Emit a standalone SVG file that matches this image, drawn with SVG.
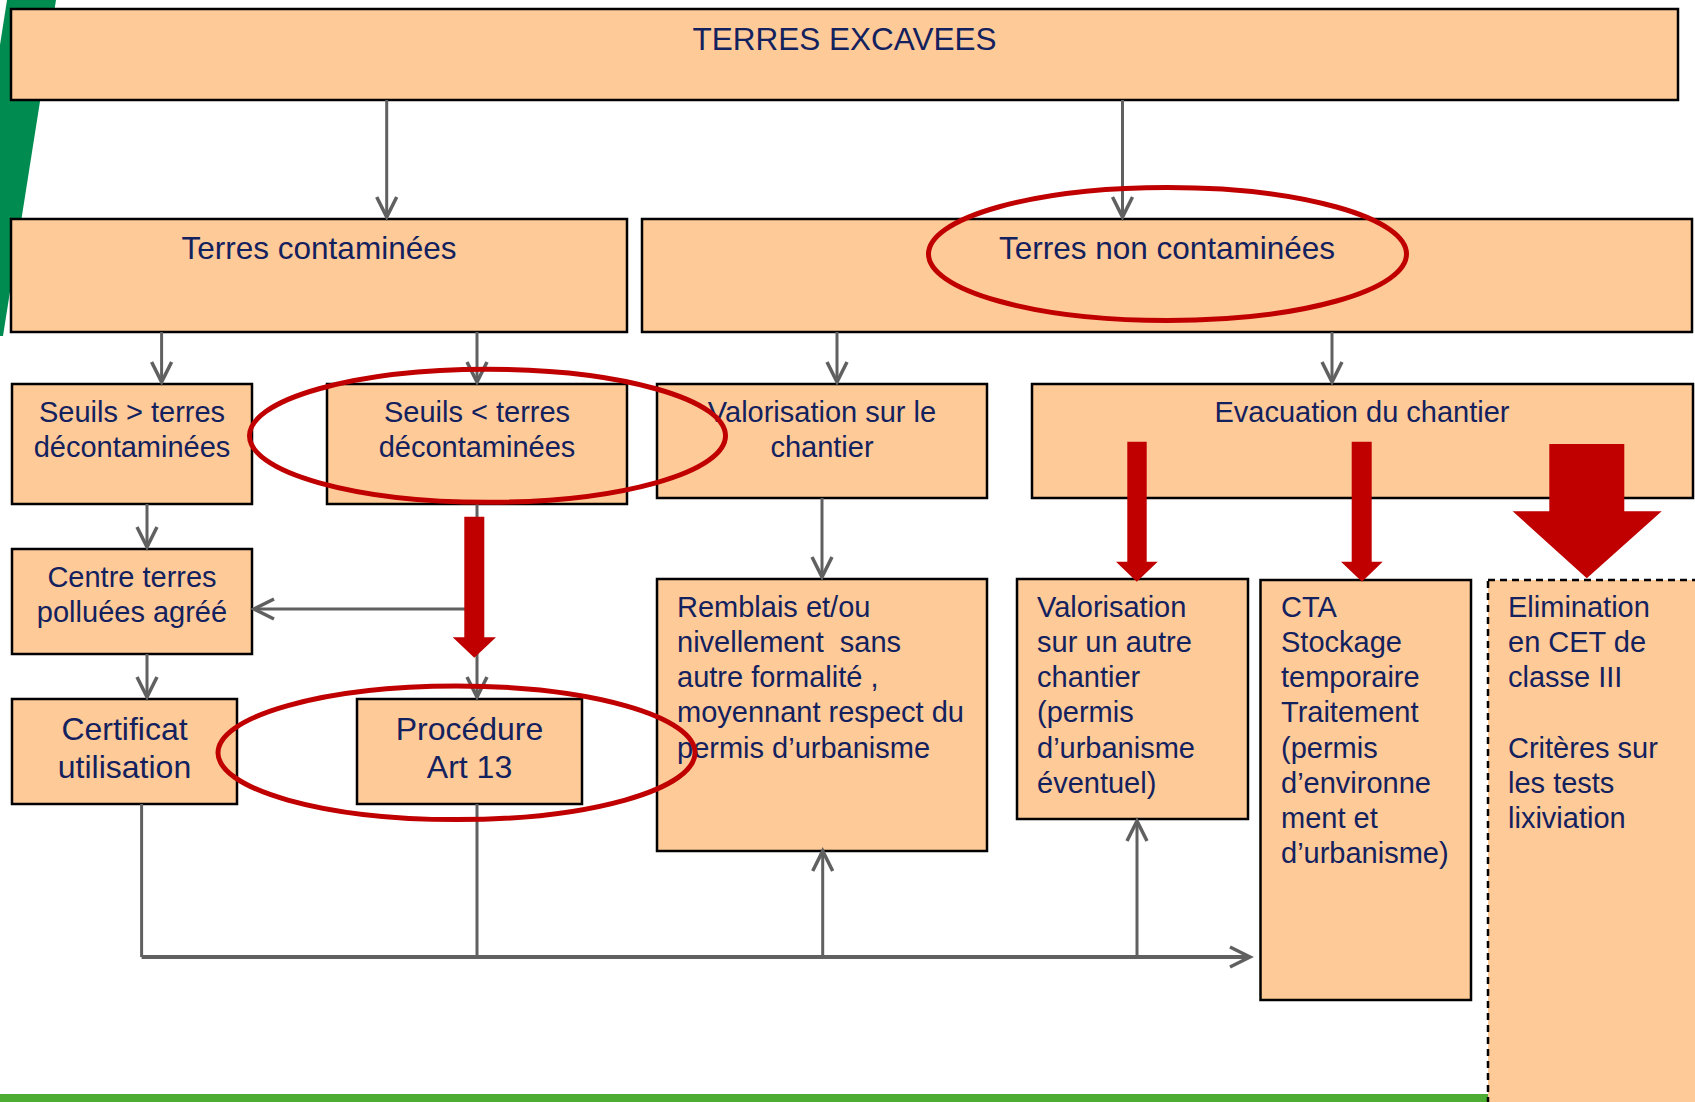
<svg xmlns="http://www.w3.org/2000/svg" width="1695" height="1102" viewBox="0 0 1695 1102">
<defs>
<style>
.box{fill:#FECA98;stroke:#000;stroke-width:2.5}
.dash{fill:#FECA98;stroke:#000;stroke-width:2.5;stroke-dasharray:7,5}
.t{font-family:"Liberation Sans",Arial,sans-serif;fill:#13215E}
.c{text-anchor:middle}
.f31{font-size:31.5px}
.f29{font-size:29px}
.f32{font-size:32px}
.con{stroke:#606060;stroke-width:3;fill:none}
.red{fill:#C00000}
.ell{fill:none;stroke:#C00000;stroke-width:5}
</style>
<marker id="ah" markerUnits="userSpaceOnUse" markerWidth="30" markerHeight="30" viewBox="-25 -15 30 30" refX="0" refY="0" orient="auto">
<path d="M-20,-10 L0,0 L-20,10" fill="none" stroke="#606060" stroke-width="3.5"/>
</marker>
</defs>
<rect width="1695" height="1102" fill="#fff"/>
<polygon points="7,0 56,0 3,336 0,336 0,45" fill="#008C50"/>
<rect x="0" y="1094" width="1490" height="8" fill="#4CAD32"/>

<g id="n-terres-excavees"><rect class="box" x="11" y="9" width="1667" height="91"/><text class="t c f31" x="844.5" y="50">TERRES EXCAVEES</text></g>
<g id="n-terres-contaminees"><rect class="box" x="11" y="219" width="616" height="113"/><text class="t c f31" x="319" y="259">Terres contaminées</text></g>
<g id="n-terres-non-contaminees"><rect class="box" x="642" y="219" width="1050" height="113"/><text class="t c f31" x="1167" y="259">Terres non contaminées</text></g>
<g id="n-seuils-sup"><rect class="box" x="12" y="384" width="240" height="120"/><text class="t c f29" x="132" y="421.7">Seuils &gt; terres</text><text class="t c f29" x="132" y="456.7">décontaminées</text></g>
<g id="n-seuils-inf"><rect class="box" x="327" y="384" width="300" height="120"/><text class="t c f29" x="477" y="421.7">Seuils &lt; terres</text><text class="t c f29" x="477" y="456.7">décontaminées</text></g>
<g id="n-valorisation-chantier"><rect class="box" x="657" y="384" width="330" height="114"/><text class="t c f29" x="822" y="421.7">Valorisation sur le</text><text class="t c f29" x="822" y="456.7">chantier</text></g>
<g id="n-evacuation"><rect class="box" x="1032" y="384" width="661" height="114"/><text class="t c f29" x="1362" y="421.7">Evacuation du chantier</text></g>
<g id="n-centre"><rect class="box" x="12" y="549" width="240" height="105"/><text class="t c f29" x="132" y="586.7">Centre terres</text><text class="t c f29" x="132" y="621.7">polluées agréé</text></g>
<g id="n-certificat"><rect class="box" x="12" y="699" width="225" height="105"/><text class="t c f32" x="124.5" y="740">Certificat</text><text class="t c f32" x="124.5" y="777.7">utilisation</text></g>
<g id="n-procedure"><rect class="box" x="357" y="699" width="225" height="105"/><text class="t c f32" x="469.5" y="740">Procédure</text><text class="t c f32" x="469.5" y="777.7">Art 13</text></g>
<g id="n-remblais"><rect class="box" x="657" y="579" width="330" height="272"/>
<text class="t f29" x="677" y="616.7" style="white-space:pre">Remblais et/ou<tspan x="677" y="651.9">nivellement  sans</tspan><tspan x="677" y="687.1">autre formalité ,</tspan><tspan x="677" y="722.3">moyennant respect du</tspan><tspan x="677" y="757.5">permis d’urbanisme</tspan></text></g>
<g id="n-valorisation-autre"><rect class="box" x="1017" y="579" width="231" height="240"/>
<text class="t f29" x="1037" y="616.7">Valorisation<tspan x="1037" y="651.9">sur un autre</tspan><tspan x="1037" y="687.1">chantier</tspan><tspan x="1037" y="722.3">(permis</tspan><tspan x="1037" y="757.5">d’urbanisme</tspan><tspan x="1037" y="792.7">éventuel)</tspan></text></g>
<g id="n-cta"><rect class="box" x="1260.5" y="580" width="210.5" height="420"/>
<text class="t f29" x="1281" y="616.7">CTA<tspan x="1281" y="651.9">Stockage</tspan><tspan x="1281" y="687.1">temporaire</tspan><tspan x="1281" y="722.3">Traitement</tspan><tspan x="1281" y="757.5">(permis</tspan><tspan x="1281" y="792.7">d’environne</tspan><tspan x="1281" y="827.9">ment et</tspan><tspan x="1281" y="863.1">d’urbanisme)</tspan></text></g>
<g id="n-elimination"><rect class="dash" x="1488" y="580" width="260" height="560"/>
<text class="t f29" x="1508" y="616.7">Elimination<tspan x="1508" y="651.9">en CET de</tspan><tspan x="1508" y="687.1">classe III</tspan><tspan x="1508" y="757.5">Critères sur</tspan><tspan x="1508" y="792.7">les tests</tspan><tspan x="1508" y="827.9">lixiviation</tspan></text></g>

<g id="connectors">
<line class="con" x1="386.7" y1="100" x2="386.7" y2="217" marker-end="url(#ah)"/>
<line class="con" x1="1122.5" y1="100" x2="1122.5" y2="217" marker-end="url(#ah)"/>
<line class="con" x1="161.6" y1="332" x2="161.6" y2="382" marker-end="url(#ah)"/>
<line class="con" x1="477" y1="332" x2="477" y2="382" marker-end="url(#ah)"/>
<line class="con" x1="837" y1="332" x2="837" y2="382" marker-end="url(#ah)"/>
<line class="con" x1="1332" y1="332" x2="1332" y2="382" marker-end="url(#ah)"/>
<line class="con" x1="147" y1="504" x2="147" y2="547" marker-end="url(#ah)"/>
<line class="con" x1="147" y1="654" x2="147" y2="697" marker-end="url(#ah)"/>
<line class="con" x1="477" y1="504" x2="477" y2="697" marker-end="url(#ah)"/>
<line class="con" x1="477" y1="609" x2="254" y2="609" marker-end="url(#ah)"/>
<line class="con" x1="822" y1="498" x2="822" y2="577" marker-end="url(#ah)"/>
<line class="con" x1="141.6" y1="804" x2="141.6" y2="957"/>
<line class="con" x1="477" y1="804" x2="477" y2="957"/>
<line class="con" x1="141.6" y1="957" x2="1250" y2="957" style="stroke-width:4" marker-end="url(#ah)"/>
<line class="con" x1="822.7" y1="957" x2="822.7" y2="851" marker-end="url(#ah)"/>
<line class="con" x1="1137" y1="957" x2="1137" y2="821" marker-end="url(#ah)"/>
<polygon class="red" points="464.3,516.7 484.3,516.7 484.3,637.3 496,637.3 474.3,657.7 452.7,637.3 464.3,637.3"/>
<polygon class="red" points="1127.3,441.7 1146.7,441.7 1146.7,561.7 1157.7,561.7 1136.8,581.7 1116,561.7 1127.3,561.7"/>
<polygon class="red" points="1351.7,441.7 1371.7,441.7 1371.7,561.7 1382.7,561.7 1362,581.7 1341,561.7 1351.7,561.7"/>
<polygon class="red" points="1549.3,444 1624.3,444 1624.3,511.3 1661.7,511.3 1586.8,578.3 1512.7,511.3 1549.3,511.3"/>
</g>

<g id="highlights">
<ellipse class="ell" cx="1167.5" cy="254" rx="239" ry="66.5"/>
<ellipse class="ell" cx="487.5" cy="435.8" rx="238" ry="66.5"/>
<ellipse class="ell" cx="456.5" cy="752.8" rx="238.5" ry="66.8"/>
</g>
</svg>
